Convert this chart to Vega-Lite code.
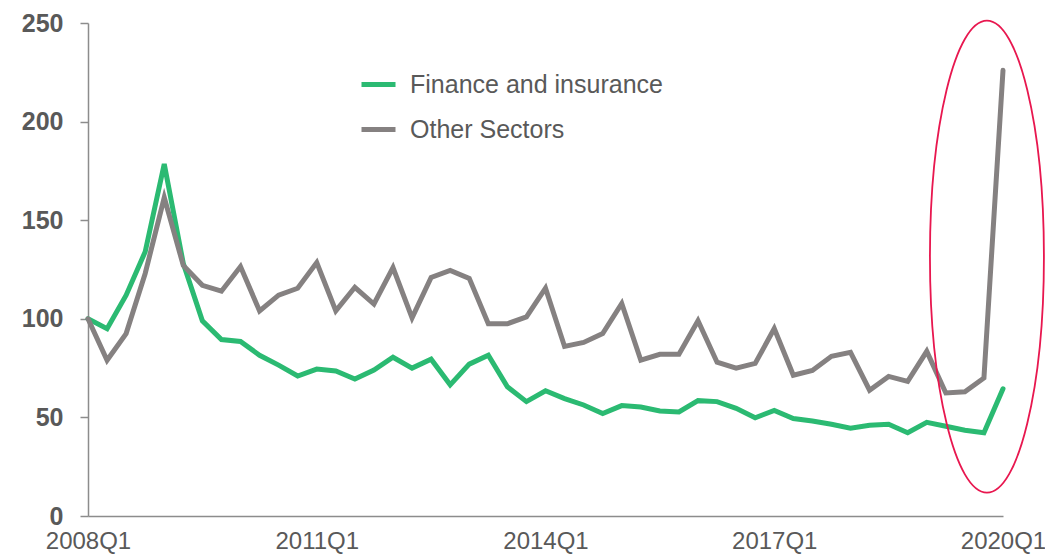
{
  "$schema": "https://vega.github.io/schema/vega-lite/v6.json",
  "width": 915,
  "height": 493,
  "autosize": {"type": "none"},
  "padding": {"left": 88, "top": 23, "right": 42, "bottom": 40},
  "background": "white",
  "config": {"view": {"stroke": null}, "axis": {"grid": false}},
  "layer": [
    {
      "data": {
        "values": [
          {"q": "2008Q1", "Finance and insurance": 100, "Other Sectors": 100},
          {"q": "2008Q2", "Finance and insurance": 95, "Other Sectors": 79},
          {"q": "2008Q3", "Finance and insurance": 112, "Other Sectors": 92.5},
          {"q": "2008Q4", "Finance and insurance": 134, "Other Sectors": 123},
          {"q": "2009Q1", "Finance and insurance": 178.5, "Other Sectors": 161.5},
          {"q": "2009Q2", "Finance and insurance": 128, "Other Sectors": 127},
          {"q": "2009Q3", "Finance and insurance": 99, "Other Sectors": 117},
          {"q": "2009Q4", "Finance and insurance": 89.5, "Other Sectors": 114},
          {"q": "2010Q1", "Finance and insurance": 88.5, "Other Sectors": 126.5},
          {"q": "2010Q2", "Finance and insurance": 81.5, "Other Sectors": 104},
          {"q": "2010Q3", "Finance and insurance": 76.5, "Other Sectors": 112},
          {"q": "2010Q4", "Finance and insurance": 71, "Other Sectors": 115.5},
          {"q": "2011Q1", "Finance and insurance": 74.5, "Other Sectors": 128.5},
          {"q": "2011Q2", "Finance and insurance": 73.5, "Other Sectors": 104},
          {"q": "2011Q3", "Finance and insurance": 69.5, "Other Sectors": 116},
          {"q": "2011Q4", "Finance and insurance": 74, "Other Sectors": 107.5},
          {"q": "2012Q1", "Finance and insurance": 80.5, "Other Sectors": 126},
          {"q": "2012Q2", "Finance and insurance": 75, "Other Sectors": 100.5},
          {"q": "2012Q3", "Finance and insurance": 79.5, "Other Sectors": 121},
          {"q": "2012Q4", "Finance and insurance": 66.5, "Other Sectors": 124.5},
          {"q": "2013Q1", "Finance and insurance": 77, "Other Sectors": 120.5},
          {"q": "2013Q2", "Finance and insurance": 81.5, "Other Sectors": 97.5},
          {"q": "2013Q3", "Finance and insurance": 65.5, "Other Sectors": 97.5},
          {"q": "2013Q4", "Finance and insurance": 58, "Other Sectors": 101},
          {"q": "2014Q1", "Finance and insurance": 63.5, "Other Sectors": 115.5},
          {"q": "2014Q2", "Finance and insurance": 59.5, "Other Sectors": 86},
          {"q": "2014Q3", "Finance and insurance": 56.3, "Other Sectors": 88},
          {"q": "2014Q4", "Finance and insurance": 52, "Other Sectors": 92.5},
          {"q": "2015Q1", "Finance and insurance": 56, "Other Sectors": 107.8},
          {"q": "2015Q2", "Finance and insurance": 55.3, "Other Sectors": 79},
          {"q": "2015Q3", "Finance and insurance": 53.3, "Other Sectors": 82},
          {"q": "2015Q4", "Finance and insurance": 52.8, "Other Sectors": 82},
          {"q": "2016Q1", "Finance and insurance": 58.5, "Other Sectors": 99},
          {"q": "2016Q2", "Finance and insurance": 58, "Other Sectors": 78},
          {"q": "2016Q3", "Finance and insurance": 54.6, "Other Sectors": 75},
          {"q": "2016Q4", "Finance and insurance": 49.8, "Other Sectors": 77.4},
          {"q": "2017Q1", "Finance and insurance": 53.5, "Other Sectors": 95},
          {"q": "2017Q2", "Finance and insurance": 49.4, "Other Sectors": 71.4},
          {"q": "2017Q3", "Finance and insurance": 48.2, "Other Sectors": 73.8},
          {"q": "2017Q4", "Finance and insurance": 46.5, "Other Sectors": 81},
          {"q": "2018Q1", "Finance and insurance": 44.5, "Other Sectors": 83},
          {"q": "2018Q2", "Finance and insurance": 46, "Other Sectors": 63.8},
          {"q": "2018Q3", "Finance and insurance": 46.5, "Other Sectors": 70.8},
          {"q": "2018Q4", "Finance and insurance": 42.2, "Other Sectors": 68.3},
          {"q": "2019Q1", "Finance and insurance": 47.5, "Other Sectors": 83.5},
          {"q": "2019Q2", "Finance and insurance": 45.5, "Other Sectors": 62.4},
          {"q": "2019Q3", "Finance and insurance": 43.5, "Other Sectors": 63},
          {"q": "2019Q4", "Finance and insurance": 42.2, "Other Sectors": 70},
          {"q": "2020Q1", "Finance and insurance": 64.5, "Other Sectors": 226}
        ]
      },
      "transform": [{"fold": ["Finance and insurance", "Other Sectors"], "as": ["series", "value"]}],
      "mark": {"type": "line", "strokeWidth": 5, "strokeCap": "round"},
      "encoding": {
        "x": {
          "field": "q",
          "type": "ordinal",
          "scale": {"type": "point", "padding": 0},
          "axis": {
            "title": null,
            "values": ["2008Q1", "2011Q1", "2014Q1", "2017Q1", "2020Q1"],
            "ticks": false,
            "labelAngle": 0,
            "labelFont": "Liberation Sans",
            "labelFontSize": 24,
            "labelColor": "#595959",
            "labelPadding": 13,
            "labelOverlap": false,
            "labelBound": false,
            "domainColor": "#8C8C8C",
            "domainWidth": 1.5
          }
        },
        "y": {
          "field": "value",
          "type": "quantitative",
          "scale": {"domain": [0, 250], "nice": false},
          "axis": {
            "title": null,
            "values": [0, 50, 100, 150, 200, 250],
            "tickSize": 8,
            "tickColor": "#8C8C8C",
            "tickWidth": 1.5,
            "domainColor": "#8C8C8C",
            "domainWidth": 1.5,
            "labelFont": "Liberation Sans",
            "labelFontWeight": "bold",
            "labelFontSize": 25,
            "labelColor": "#595959",
            "labelPadding": 17
          }
        },
        "color": {
          "field": "series",
          "type": "nominal",
          "scale": {"domain": ["Finance and insurance", "Other Sectors"], "range": ["#2BBA72", "#858181"]},
          "legend": {
            "title": null,
            "orient": "none",
            "legendX": 271,
            "legendY": 42,
            "symbolType": "stroke",
            "symbolSize": 1156,
            "symbolStrokeWidth": 5,
            "labelFont": "Liberation Sans",
            "labelFontSize": 25,
            "labelColor": "#595959",
            "labelOffset": 12,
            "labelLimit": 500,
            "rowPadding": 12
          }
        }
      }
    },
    {
      "data": {"values": [{"q": "2019Q4", "v": 131.5}]},
      "mark": {
        "type": "point",
        "shape": "M0.0127,-1A0.2415,1,0,1,1,0.0127,1A0.2415,1,0,1,1,0.0127,-1Z",
        "size": 222784,
        "stroke": "#E8174F",
        "strokeWidth": 1.8,
        "filled": false,
        "opacity": 1
      },
      "encoding": {
        "x": {"field": "q", "type": "ordinal"},
        "y": {"field": "v", "type": "quantitative", "scale": {"domain": [0, 250], "nice": false}}
      }
    }
  ]
}
